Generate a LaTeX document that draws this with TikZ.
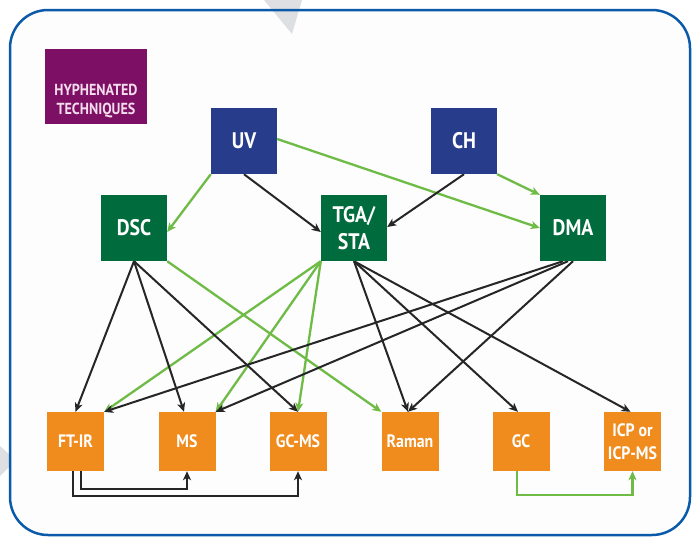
\documentclass[tikz,border=0pt]{standalone}
\usepackage{fontspec}
\setmainfont{PT Sans}[FakeStretch=0.88]
\usetikzlibrary{arrows.meta,calc}
\definecolor{frameblue}{HTML}{0B5AAA}
\definecolor{nodeblue}{HTML}{283C8C}
\definecolor{nodegreen}{HTML}{006B3C}
\definecolor{nodepurple}{HTML}{7D0F64}
\definecolor{nodeorange}{HTML}{F08C1E}
\definecolor{linegreen}{HTML}{6EBB46}
\definecolor{stripegray}{HTML}{DDDFE2}
\definecolor{pinktext}{HTML}{F3DCEB}
\definecolor{innerfill}{HTML}{FDFDFD}
\pgfdeclarelayer{back}
\pgfdeclarelayer{background}
\pgfsetlayers{back,background,main}
\begin{document}
\begin{tikzpicture}[x=1pt,y=-1pt,
  box/.style={draw=none, inner sep=0pt, align=center, text=white},
  topbox/.style={box, minimum width=66pt, minimum height=66pt, font=\bfseries\fontsize{22.5}{27}\selectfont},
  botbox/.style={box, fill=nodeorange, minimum width=57pt, minimum height=59pt, font=\bfseries\fontsize{18}{23}\selectfont},
  blk/.style={draw=black!85, line width=2pt, -{Stealth[length=9pt,width=8pt,inset=2.5pt]}},
  grn/.style={draw=linegreen, line width=2.3pt, -{Stealth[length=9pt,width=8pt,inset=2.5pt]}}]
\useasboundingbox (0,0) rectangle (693,538);
\begin{pgfonlayer}{back}
  \fill[white] (0,0) rectangle (693,538);
  \fill[innerfill] (10,10) [rounded corners=38pt] rectangle (690,535);
  \fill[stripegray] (264,0) -- (302,0) -- (292,34) -- cycle;
  \fill[stripegray] (0,446) -- (10,455) -- (10,466) -- (0,476) -- cycle;
  \draw[frameblue, line width=2.5pt, rounded corners=38pt] (10,10) rectangle (690,535);
\end{pgfonlayer}

% legend box
\node[box, fill=nodepurple, minimum width=102pt, minimum height=75pt] (legend) at (96,86) {};
\node[box, text=pinktext, font=\bfseries\fontsize{16}{18.5}\selectfont] (legendtext) at (96,101) {HYPHENATED\\TECHNIQUES};

% top row
\node[topbox, fill=nodeblue] (uv) at (244,141) {UV};
\node[topbox, fill=nodeblue] (ch) at (464,141) {CH};
% middle row
\node[topbox, fill=nodegreen] (dsc) at (134,228) {DSC};
\node[topbox, fill=nodegreen] (tga) at (354,228) {TGA/\\STA};
\node[topbox, fill=nodegreen] (dma) at (573,228) {DMA};
% bottom row
\node[botbox] (ftir) at (75.5,441.5) {FT-IR};
\node[botbox] (ms) at (187,441.5) {MS};
\node[botbox] (gcms) at (298,441.5) {GC-MS};
\node[botbox] (raman) at (410,441.5) {Raman};
\node[botbox] (gc) at (521,441.5) {GC};
\node[botbox] (icp) at (632.5,441.5) {ICP or\\ICP-MS};

\begin{pgfonlayer}{background}
  % green connectors
  \draw[grn] (uv.south west) -- ($(dsc.east)+(0,4)$);
  \draw[grn] ($(uv.east)+(0,-2)$) -- (dma.west);
  \draw[grn] (ch.south east) -- (dma.north west);
  \draw[grn] (dsc.south east) -- (raman.north west);
  \draw[grn] (tga.south west) -- (ftir.north east);
  \draw[grn] (tga.south west) -- (ms.north east);
  \draw[grn] (tga.south west) -- (gcms.north);
  \coordinate (gcout) at ($(gc.south)+(-4,0)$);
  \draw[grn] (gcout) -- ++(0,24) -| (icp.south);
  % black connectors
  \draw[blk] (uv.south) -- ($(tga.west)+(0,4)$);
  \draw[blk] (ch.south) -- ($(tga.east)+(0,-1)$);
  \draw[blk] (dsc.south) -- (ftir.north);
  \draw[blk] (dsc.south) -- ($(ms.north)+(-3,0)$);
  \draw[blk] (dsc.south) -- (gcms.north);
  \draw[blk] (tga.south) -- ($(raman.north)+(-2,0)$);
  \draw[blk] (tga.south) -- ($(gc.north)+(-3,0)$);
  \draw[blk] (tga.south) -- ($(icp.north)+(-2,0)$);
  \draw[blk] ($(dma.south)+(-10,0)$) -- (ftir.north east);
  \draw[blk] ($(dma.south)+(-5,0)$) -- (ms.north east);
  \draw[blk] (dma.south) -- ($(raman.north)+(-2,0)$);
  \coordinate (ftout1) at ($(ftir.south)+(5.5,0)$);
  \coordinate (ftout2) at ($(ftir.south)+(-2.5,0)$);
  \draw[blk] (ftout1) -- ++(0,18) -| (ms.south);
  \draw[blk] (ftout2) -- ++(0,25) -| (gcms.south);
\end{pgfonlayer}
\end{tikzpicture}
\end{document}
